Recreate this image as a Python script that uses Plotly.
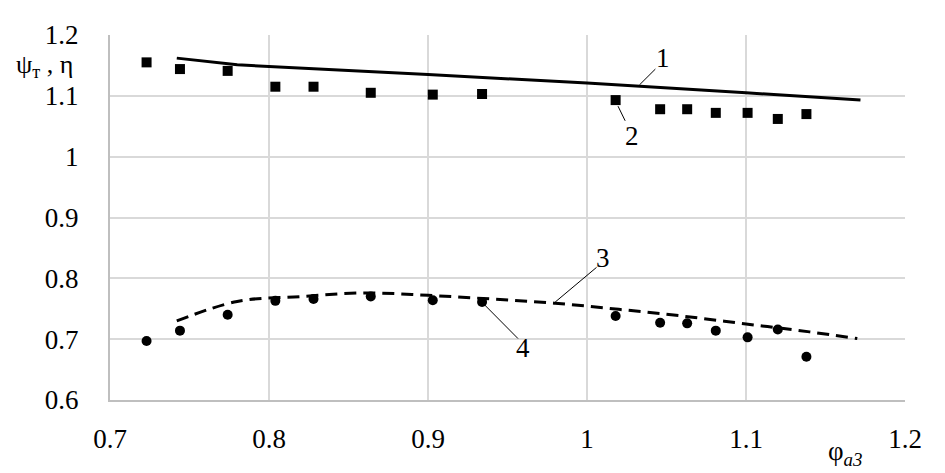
import plotly.graph_objects as go

# experimental points (series 2 - squares, series 4 - circles)
x_pts = [0.723, 0.744, 0.774, 0.804, 0.828, 0.864, 0.903, 0.934,
         1.018, 1.046, 1.063, 1.081, 1.101, 1.120, 1.138]
psi_pts = [1.155, 1.144, 1.141, 1.115, 1.115, 1.105, 1.102, 1.103,
           1.093, 1.078, 1.078, 1.072, 1.072, 1.062, 1.070]
eta_pts = [0.697, 0.714, 0.740, 0.763, 0.766, 0.770, 0.764, 0.761,
           0.738, 0.727, 0.726, 0.714, 0.703, 0.716, 0.671]

# calculated curves (1 - solid, 3 - dashed)
x_psi_line = [0.742, 0.78, 0.90, 1.00, 1.10, 1.172]
psi_line = [1.162, 1.151, 1.135, 1.121, 1.105, 1.093]
x_eta_line = [0.742, 0.78, 0.82, 0.86, 0.90, 0.94, 0.98, 1.02, 1.06, 1.10, 1.14, 1.17]
eta_line = [0.730, 0.762, 0.770, 0.776, 0.772, 0.766, 0.759, 0.749, 0.738, 0.725, 0.712, 0.701]

# curve labels: text, text position, leader line start/end
label_text = ["1", "2", "3", "4"]
label_xy = [(1.048, 1.163), (1.028, 1.034), (1.010, 0.833), (0.960, 0.686)]
leader_xy = [(1.033, 1.118, 1.043, 1.144), (1.0195, 1.083, 1.024, 1.059),
             (0.980, 0.761, 1.006, 0.818), (0.9346, 0.759, 0.9566, 0.701)]

font = "Liberation Serif"
tick_font = dict(family=font, size=27, color="black")

fig = go.Figure()
fig.add_trace(go.Scatter(x=x_psi_line, y=psi_line, mode="lines",
                         line=dict(color="black", width=3)))
fig.add_trace(go.Scatter(x=x_eta_line, y=eta_line, mode="lines", line_shape="spline",
                         line=dict(color="black", width=3, dash="12px,7px")))
fig.add_trace(go.Scatter(x=x_pts, y=psi_pts, mode="markers",
                         marker=dict(symbol="square", size=10, color="black")))
fig.add_trace(go.Scatter(x=x_pts, y=eta_pts, mode="markers",
                         marker=dict(symbol="circle", size=10, color="black")))

for text, (tx, ty), (x0, y0, x1, y1) in zip(label_text, label_xy, leader_xy):
    fig.add_shape(type="line", x0=x0, y0=y0, x1=x1, y1=y1,
                  line=dict(color="black", width=1))
    fig.add_annotation(x=tx, y=ty, text=text, showarrow=False,
                       xanchor="center", yanchor="middle",
                       font=dict(family=font, size=27, color="black"))

fig.add_annotation(xref="paper", yref="paper", x=-0.044, y=0.915, text="ψ<sub>т</sub> , η",
                   showarrow=False, xanchor="right", yanchor="middle",
                   font=dict(family=font, size=26, color="black"))
fig.add_annotation(xref="paper", yref="paper", x=0.9245, y=-0.145, text="φ<i><sub>a3</sub></i>",
                   showarrow=False, xanchor="center", yanchor="middle",
                   font=dict(family=font, size=27, color="black"))

# page body has an 8px margin, so the figure is sized to fit the window
fig.update_layout(
    width=937, height=465,
    margin=dict(l=102, r=40, t=19, b=73),
    plot_bgcolor="white", paper_bgcolor="white",
    showlegend=False,
    font=dict(family=font, size=27, color="black"),
)
fig.update_xaxes(range=[0.7, 1.2], dtick=0.1, tickformat="~g", tickfont=tick_font,
                 showgrid=True, gridcolor="#d9d9d9", gridwidth=1.5,
                 showline=True, linecolor="#bfbfbf", linewidth=2,
                 zeroline=False, ticks="", ticklabelstandoff=14)
fig.update_yaxes(range=[0.6, 1.2], dtick=0.1, tickformat="~g", tickfont=tick_font,
                 showgrid=True, gridcolor="#d9d9d9", gridwidth=1.5,
                 showline=True, linecolor="#bfbfbf", linewidth=2,
                 zeroline=False, ticks="", ticklabelstandoff=24)

fig.write_html("out.html")
